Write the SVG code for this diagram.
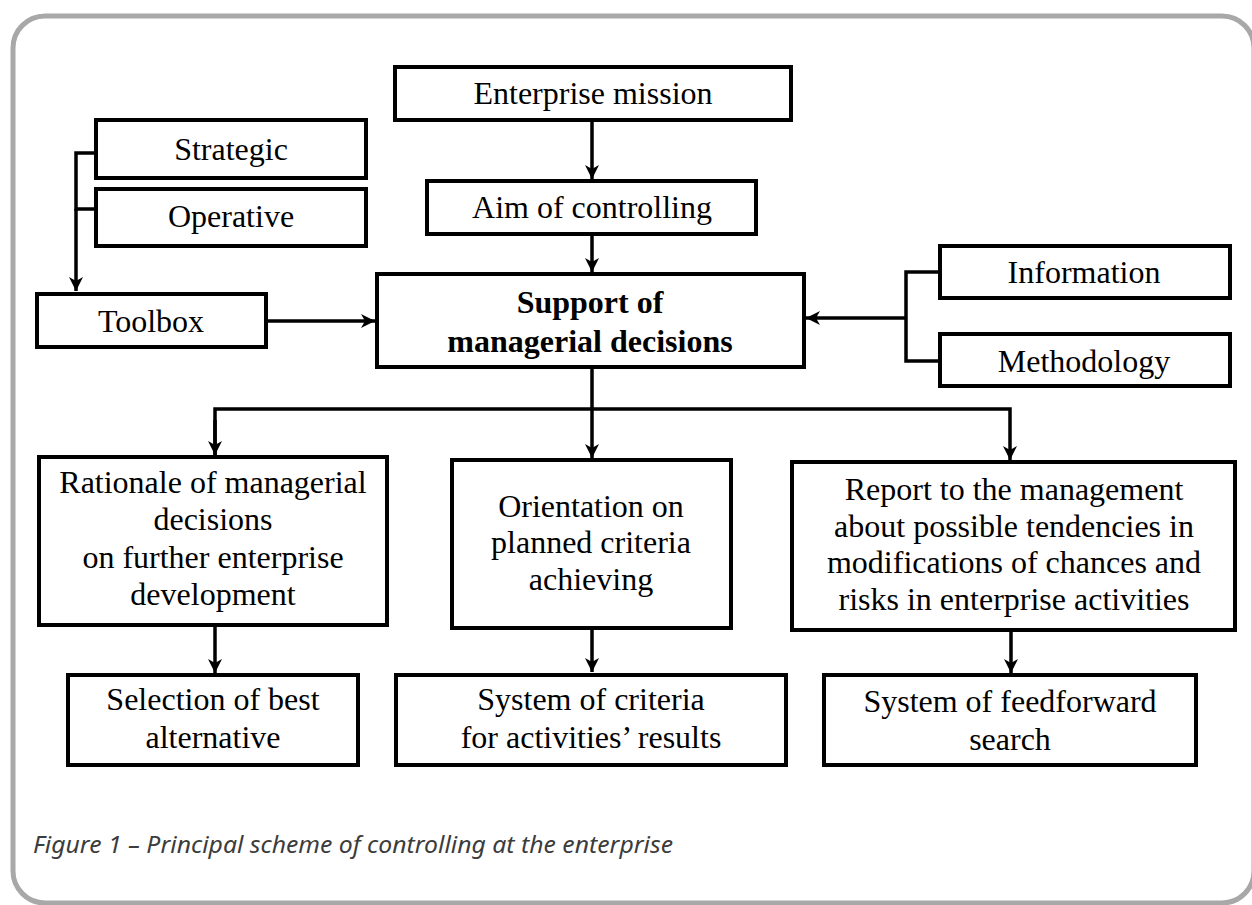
<svg xmlns="http://www.w3.org/2000/svg" width="1252" height="905" viewBox="0 0 1252 905">
<style>
.box{fill:#fff;stroke:#000;stroke-width:4}
.t{font-family:"Liberation Serif","Times New Roman",serif;font-size:32px;fill:#000;text-anchor:middle}
.b{font-weight:bold}
.c{fill:none;stroke:#000;stroke-width:3.5}
.cap{font-family:"Noto Sans","Open Sans",sans-serif;font-style:italic;font-size:24px;fill:#3c3c3c}
</style>
<defs>
<marker id="ah" viewBox="0 0 14 14" refX="14" refY="7" markerWidth="14" markerHeight="14" markerUnits="userSpaceOnUse" orient="auto">
<path d="M0,0 L14,7 L0,14 L4,7 z" fill="#000"/>
</marker>
</defs>
<rect x="0" y="0" width="1252" height="905" fill="#fff"/>
<rect x="13" y="16" width="1241" height="887" rx="32" ry="32" fill="none" stroke="#a8a8a8" stroke-width="5"/>

<g id="connectors">
<line class="c" x1="592" y1="122" x2="592" y2="179" marker-end="url(#ah)"/>
<line class="c" x1="592" y1="236" x2="592" y2="272" marker-end="url(#ah)"/>
<polyline class="c" points="94,153 76,153 76,209 94,209"/>
<line class="c" x1="76" y1="209" x2="76" y2="291" marker-end="url(#ah)"/>
<line class="c" x1="268" y1="321" x2="375" y2="321" marker-end="url(#ah)"/>
<polyline class="c" points="938,272 906,272 906,361 938,361"/>
<line class="c" x1="906" y1="318" x2="806" y2="318" marker-end="url(#ah)"/>
<line class="c" x1="592" y1="369" x2="592" y2="409"/>
<polyline class="c" points="215,455 215,409 1010,409 1010,460" marker-end="url(#ah)"/>
<line class="c" x1="215" y1="420" x2="215" y2="455" marker-end="url(#ah)"/>
<line class="c" x1="592" y1="409" x2="592" y2="458" marker-end="url(#ah)"/>
<line class="c" x1="215" y1="627" x2="215" y2="673" marker-end="url(#ah)"/>
<line class="c" x1="592" y1="630" x2="592" y2="672" marker-end="url(#ah)"/>
<line class="c" x1="1011" y1="632" x2="1011" y2="673" marker-end="url(#ah)"/>
</g>

<g id="n-mission"><rect class="box" x="395" y="67" width="396" height="53"/><text class="t" x="593" y="104">Enterprise mission</text></g>
<g id="n-aim"><rect class="box" x="427" y="181" width="329" height="53"/><text class="t" x="592" y="218">Aim of controlling</text></g>
<g id="n-support"><rect class="box" x="377" y="274" width="427" height="93"/><text class="t b" x="590" y="313">Support of</text><text class="t b" x="590" y="352">managerial decisions</text></g>
<g id="n-strategic"><rect class="box" x="96" y="120" width="270" height="58"/><text class="t" x="231" y="160">Strategic</text></g>
<g id="n-operative"><rect class="box" x="96" y="189" width="270" height="57"/><text class="t" x="231" y="227">Operative</text></g>
<g id="n-toolbox"><rect class="box" x="37" y="294" width="229" height="53"/><text class="t" x="151" y="332">Toolbox</text></g>
<g id="n-information"><rect class="box" x="940" y="246" width="290" height="52"/><text class="t" x="1084" y="283">Information</text></g>
<g id="n-methodology"><rect class="box" x="940" y="334" width="290" height="52"/><text class="t" x="1084" y="372">Methodology</text></g>
<g id="n-rationale"><rect class="box" x="39" y="457" width="348" height="168"/>
<text class="t" x="213" y="493">Rationale of managerial</text>
<text class="t" x="213" y="530">decisions</text>
<text class="t" x="213" y="568">on further enterprise</text>
<text class="t" x="213" y="605">development</text></g>
<g id="n-orientation"><rect class="box" x="452" y="460" width="279" height="168"/>
<text class="t" x="591" y="517">Orientation on</text>
<text class="t" x="591" y="553">planned criteria</text>
<text class="t" x="591" y="590">achieving</text></g>
<g id="n-report"><rect class="box" x="792" y="462" width="443" height="168"/>
<text class="t" x="1014" y="500">Report to the management</text>
<text class="t" x="1014" y="537">about possible tendencies in</text>
<text class="t" x="1014" y="573">modifications of chances and</text>
<text class="t" x="1014" y="610">risks in enterprise activities</text></g>
<g id="n-selection"><rect class="box" x="68" y="675" width="290" height="90"/>
<text class="t" x="213" y="710">Selection of best</text>
<text class="t" x="213" y="748">alternative</text></g>
<g id="n-criteria"><rect class="box" x="396" y="675" width="390" height="90"/>
<text class="t" x="591" y="710">System of criteria</text>
<text class="t" x="591" y="748">for activities’ results</text></g>
<g id="n-feedforward"><rect class="box" x="824" y="675" width="372" height="90"/>
<text class="t" x="1010" y="712">System of feedforward</text>
<text class="t" x="1010" y="750">search</text></g>

<text class="cap" x="33" y="853" textLength="640" lengthAdjust="spacingAndGlyphs">Figure 1 – Principal scheme of controlling at the enterprise</text>
</svg>
